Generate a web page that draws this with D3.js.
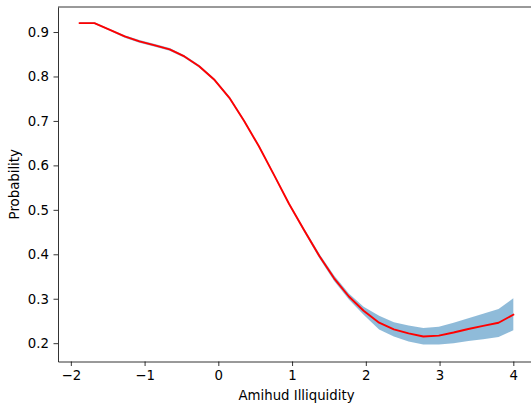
<!DOCTYPE html>
<html><head><meta charset="utf-8">
<script src="https://cdn.jsdelivr.net/npm/d3@7"></script>
<style>body{margin:0;background:#fff}svg{display:block}</style>
</head><body>
<svg id="c" width="531" height="406"></svg>
<script>
const xs = [-1.88,-1.68,-1.47,-1.27,-1.07,-0.86,-0.66,-0.46,-0.26,-0.05,0.15,0.35,0.55,0.76,0.96,1.16,1.37,1.57,1.77,1.97,2.18,2.38,2.58,2.78,2.99,3.19,3.39,3.59,3.80,4.00];
const prob = [0.920,0.920,0.905,0.890,0.879,0.870,0.861,0.845,0.823,0.792,0.752,0.700,0.643,0.577,0.513,0.455,0.396,0.346,0.305,0.273,0.246,0.231,0.222,0.215,0.217,0.224,0.232,0.239,0.246,0.264];
const lower = [0.918,0.918,0.903,0.887,0.876,0.867,0.858,0.842,0.820,0.789,0.749,0.697,0.640,0.574,0.510,0.451,0.391,0.340,0.298,0.264,0.231,0.215,0.204,0.197,0.197,0.200,0.205,0.209,0.214,0.229];
const upper = [0.922,0.922,0.907,0.893,0.882,0.873,0.864,0.848,0.826,0.795,0.755,0.703,0.646,0.580,0.516,0.459,0.401,0.352,0.312,0.282,0.262,0.247,0.240,0.234,0.237,0.246,0.256,0.266,0.277,0.301];
const xTicks = [-2,-1,0,1,2,3,4];
const yTicks = [0.2,0.3,0.4,0.5,0.6,0.7,0.8,0.9];
const xLabel = "Amihud Illiquidity";
const yLabel = "Probability";

const L=58, T=7, R=535, B=361.5;
const svg = d3.select("#c");
const x = d3.scaleLinear().domain([-2.174,4.294]).range([L,R]);
const y = d3.scaleLinear().domain([0.1588,0.9563]).range([B,T]);
const font = "DejaVu Sans, sans-serif";
const fs = 13.3;
const data = xs.map((v,i)=>({x:v,p:prob[i],lo:lower[i],hi:upper[i]}));

svg.append("path").datum(data)
  .attr("d", d3.area().x(d=>x(d.x)).y0(d=>y(d.lo)).y1(d=>y(d.hi)))
  .attr("fill","#1f77b4").attr("fill-opacity",0.5).attr("stroke","none");
svg.append("path").datum(data)
  .attr("d", d3.line().x(d=>x(d.x)).y(d=>y(d.p)))
  .attr("fill","none").attr("stroke","#ff0000").attr("stroke-width",1.9)
  .attr("stroke-linejoin","round").attr("stroke-linecap","square");

const fmt = v => (v<0?"\u2212":"") + Math.abs(v);
const xa = svg.append("g").attr("transform",`translate(0,${B})`)
  .call(d3.axisBottom(x).tickValues(xTicks).tickFormat(fmt).tickSize(4.5).tickPadding(4.5).tickSizeOuter(0));
const ya = svg.append("g").attr("transform",`translate(${L},0)`)
  .call(d3.axisLeft(y).tickValues(yTicks).tickFormat(d3.format(".1f")).tickSize(4.5).tickPadding(4.5).tickSizeOuter(0));
[xa,ya].forEach(a=>{
  a.selectAll("text").attr("font-family",font).attr("font-size",fs).attr("fill","#000");
  a.selectAll("line").attr("stroke","#000").attr("stroke-width",0.8);
  a.select(".domain").attr("stroke","#000").attr("stroke-width",0.8);
});
// top and right spines
svg.append("line").attr("x1",L).attr("x2",R).attr("y1",T).attr("y2",T).attr("stroke","#000").attr("stroke-width",0.8);
svg.append("line").attr("x1",R).attr("x2",R).attr("y1",T).attr("y2",B).attr("stroke","#000").attr("stroke-width",0.8);

svg.append("text").attr("x",(L+R)/2).attr("y",400).attr("text-anchor","middle")
  .attr("font-family",font).attr("font-size",fs).text(xLabel);
svg.append("text").attr("transform",`translate(18.5,${(T+B)/2}) rotate(-90)`).attr("text-anchor","middle")
  .attr("font-family",font).attr("font-size",fs).text(yLabel);
</script>
</body></html>
